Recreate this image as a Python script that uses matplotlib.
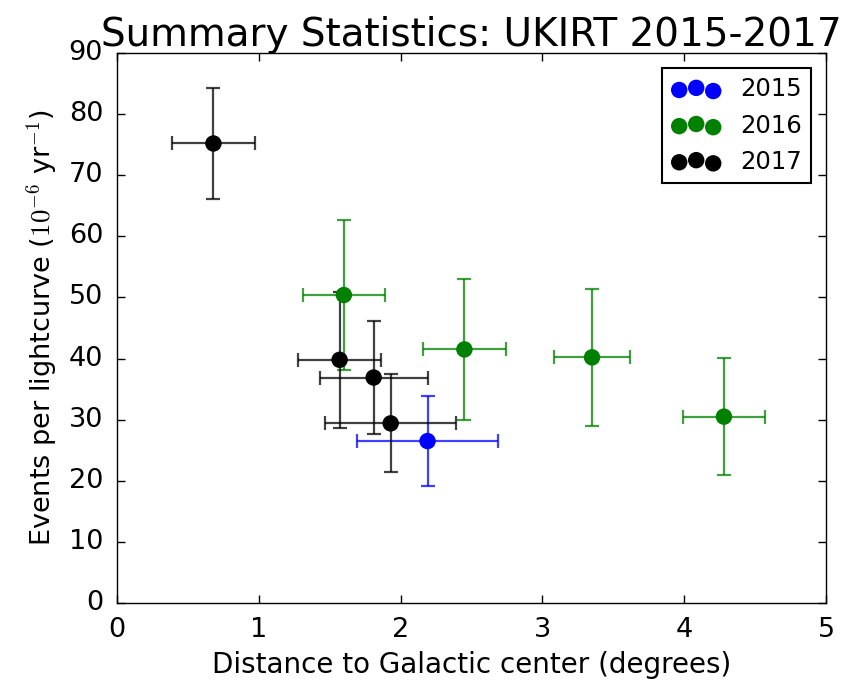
import matplotlib
matplotlib.use('Agg')
import matplotlib.pyplot as plt

plt.style.use('classic')

# event rates per field, grouped by observing season
years = ['2015', '2016', '2017']
colors = ['b', 'g', 'k']

dist = {
    '2015': [2.19],
    '2016': [1.60, 2.45, 3.35, 4.28],
    '2017': [0.68, 1.57, 1.81, 1.93],
}
dist_err = {
    '2015': [0.50],
    '2016': [0.29, 0.29, 0.27, 0.29],
    '2017': [0.29, 0.29, 0.38, 0.46],
}
rate = {
    '2015': [26.5],
    '2016': [50.4, 41.5, 40.2, 30.5],
    '2017': [75.2, 39.8, 36.9, 29.4],
}
rate_err = {
    '2015': [7.3],
    '2016': [12.3, 11.5, 11.2, 9.6],
    '2017': [9.1, 11.1, 9.2, 8.0],
}

fig = plt.figure(figsize=(8.44, 6.89), dpi=100, facecolor='white')
ax = fig.add_axes([0.1386, 0.1248, 0.8401, 0.7982])

for yr, c in zip(years, colors):
    ax.errorbar(dist[yr], rate[yr], xerr=dist_err[yr], yerr=rate_err[yr],
                fmt='none', ecolor=c, elinewidth=1.6, capsize=5, capthick=1.6,
                alpha=0.75)
    ax.scatter(dist[yr], rate[yr], s=140, c=c, edgecolors='none', label=yr, zorder=3)

ax.set_xlim(0, 5)
ax.set_ylim(0, 90)
ax.tick_params(labelsize=19.5, length=6, width=1, pad=10)
ax.set_xlabel('Distance to Galactic center (degrees)', fontsize=20, labelpad=6)
ax.set_ylabel(r'Events per lightcurve ($10^{-6}$ yr$^{-1}$)', fontsize=19.5, labelpad=6)
ax.set_title('Summary Statistics: UKIRT 2015-2017', fontsize=28, y=1.0)
leg = ax.legend(loc='upper right', scatterpoints=3, fontsize=17.5,
                borderaxespad=0.6, handletextpad=0.8)
leg.get_frame().set_linewidth(1.5)

fig.savefig('out.png', dpi=100, facecolor='white')
